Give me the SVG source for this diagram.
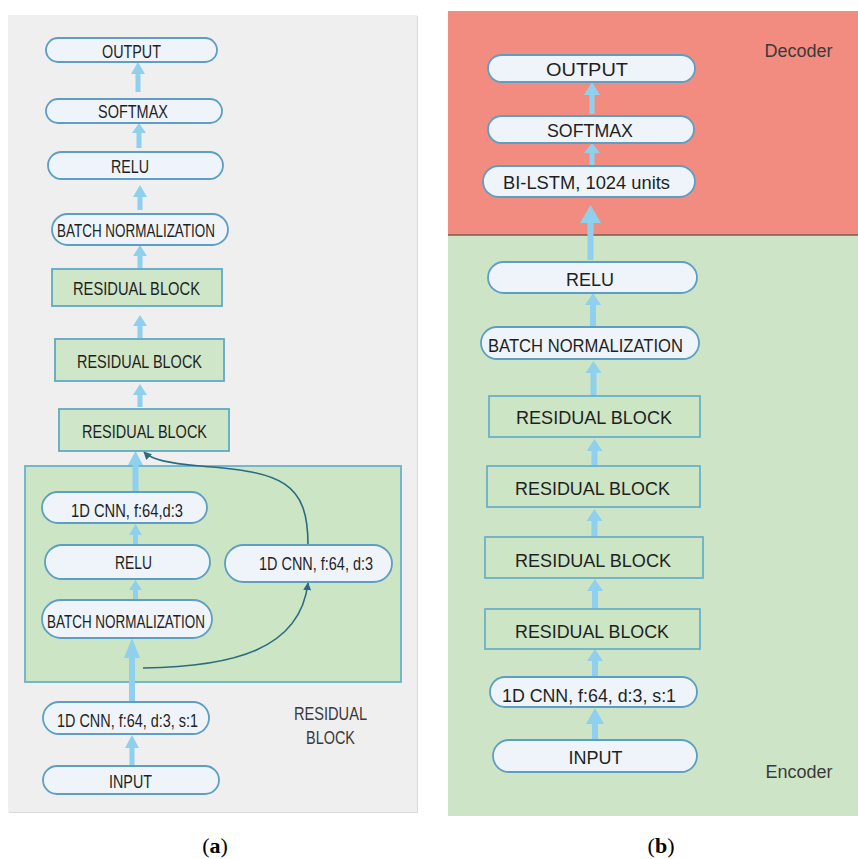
<svg xmlns="http://www.w3.org/2000/svg" width="858" height="859" viewBox="0 0 858 859">
  <style>
    .pill { fill: #eef4f9; stroke: #5d9ec4; stroke-width: 1.8; }
    .blk { fill: #cfe6c8; stroke: #5fa9c2; stroke-width: 1.8; }
    .blkb { fill: #cce5c5; stroke: #6ab1c8; stroke-width: 1.8; }
    .t { font-family: "Liberation Sans", Arial, sans-serif; font-size: 18px; fill: #1f1f1f; text-anchor: middle; }
    .ta { font-size: 19px; }
    .lab { font-family: "Liberation Sans", Arial, sans-serif; font-size: 18px; fill: #3a3a3a; text-anchor: middle; }
    .cap { font-family: "Liberation Serif", "Times New Roman", serif; font-size: 22px; fill: #000; text-anchor: middle; }
    .arr { fill: #8fd0ee; }
    .skip { fill: none; stroke: #2b6b7f; stroke-width: 1.6; marker-end: url(#tip); }
  </style>
  <defs>
    <marker id="tip" viewBox="0 0 10 10" refX="9" refY="5" markerWidth="8" markerHeight="8" markerUnits="userSpaceOnUse" orient="auto">
      <path d="M0 0 L10 5 L0 10 Z" fill="#2b6b7f"/>
    </marker>
  </defs>

  <rect width="858" height="859" fill="#ffffff"/>

  <!-- panel (a) backdrop -->
  <rect x="9" y="16" width="409" height="797" fill="#d9d9d9"/>
  <rect x="8" y="15" width="409" height="797" fill="#efefef"/>
  <!-- residual block container -->
  <g id="residual-container">
    <rect x="25" y="466" width="376" height="216" class="blkb"/>
    <text class="lab" x="330.5" y="720" textLength="73" lengthAdjust="spacingAndGlyphs">RESIDUAL</text>
    <text class="lab" x="330.5" y="744" textLength="49" lengthAdjust="spacingAndGlyphs">BLOCK</text>
  </g>

  <!-- panel (b) backdrop -->
  <rect x="448" y="11" width="410" height="224" fill="#f28c80"/>
  <rect x="448" y="235" width="410" height="581" fill="#cde5c6"/>
  <line x1="448" y1="235" x2="858" y2="235" stroke="#7a5a50" stroke-width="1.5"/>
  <text class="lab" x="798.5" y="57">Decoder</text>
  <text class="lab" x="799" y="778">Encoder</text>

  <!-- connectors -->
  <g id="connectors">
    <!-- panel (a) main flow -->
    <path class="arr" d="M135.5 92 V74 H131 L138 62 L145 74 H140.5 V92 Z"/>
    <path class="arr" d="M136.5 148 V133 H132 L139 123 L146 133 H141.5 V148 Z"/>
    <path class="arr" d="M137.5 210 V197 H133 L140 185 L147 197 H142.5 V210 Z"/>
    <path class="arr" d="M137.5 268 V256 H133 L140 245 L147 256 H142.5 V268 Z"/>
    <path class="arr" d="M137.5 338 V326 H133 L140 315 L147 326 H142.5 V338 Z"/>
    <path class="arr" d="M137.5 407 V395 H133 L140 384 L147 395 H142.5 V407 Z"/>
    <path class="arr" d="M132.5 492 V465 H128 L135.5 451 L143 465 H138.5 V492 Z"/>
    <path class="arr" d="M133 545 V535 H129 L135.5 524 L142 535 H138 V545 Z"/>
    <path class="arr" d="M133 600 V590 H129 L135.5 580 L142 590 H138 V600 Z"/>
    <path class="arr" d="M129 702 V658 H124 L132 638 L140 658 H135 V702 Z"/>
    <path class="arr" d="M129.5 766 V748 H125 L132 735 L139 748 H134.5 V766 Z"/>
    <!-- skip connection -->
    <path class="skip" d="M143 668 C 232 667, 300 650, 308 583"/>
    <path class="skip" d="M308 545 C 308 482, 282 472, 200 466 C 168 463, 152 460, 144 452"/>

    <!-- panel (b) flow -->
    <path class="arr" d="M589.5 114 V95 H584 L592 82 L600 95 H594.5 V114 Z"/>
    <path class="arr" d="M589.5 166 V153 H584 L592 143 L600 153 H594.5 V166 Z"/>
    <path class="arr" d="M587.5 260 V223 H580 L590.5 205 L601 223 H593.5 V260 Z"/>
    <path class="arr" d="M590 327 V305 H585 L593 293 L601 305 H596 V327 Z"/>
    <path class="arr" d="M590.5 396 V373 H585.5 L593.5 361 L601.5 373 H596.5 V396 Z"/>
    <path class="arr" d="M591.5 466 V451 H586.5 L594.5 439 L602.5 451 H597.5 V466 Z"/>
    <path class="arr" d="M591.5 537 V521 H586.5 L594.5 509 L602.5 521 H597.5 V537 Z"/>
    <path class="arr" d="M592 609 V591 H587 L595 579 L603 591 H598 V609 Z"/>
    <path class="arr" d="M592 677 V661 H587 L595 649 L603 661 H598 V677 Z"/>
    <path class="arr" d="M592 740 V724 H586 L595 708 L604 724 H598 V740 Z"/>
  </g>

  <!-- panel (a) nodes -->
  <g id="a-output"><rect class="pill" x="46" y="38" width="171" height="24" rx="12"/><text class="t ta" x="131.5" y="58" textLength="59" lengthAdjust="spacingAndGlyphs">OUTPUT</text></g>
  <g id="a-softmax"><rect class="pill" x="46" y="99" width="176" height="24" rx="12"/><text class="t ta" x="133" y="118" textLength="70" lengthAdjust="spacingAndGlyphs">SOFTMAX</text></g>
  <g id="a-relu"><rect class="pill" x="48" y="152" width="175" height="27" rx="13.5"/><text class="t ta" x="130" y="173" textLength="38" lengthAdjust="spacingAndGlyphs">RELU</text></g>
  <g id="a-batchnorm"><rect class="pill" x="52" y="214" width="176" height="31" rx="15.5"/><text class="t ta" x="136" y="237" textLength="158" lengthAdjust="spacingAndGlyphs">BATCH NORMALIZATION</text></g>
  <g id="a-res1"><rect class="blk" x="52" y="269" width="170" height="37"/><text class="t ta" x="136.5" y="295" textLength="127" lengthAdjust="spacingAndGlyphs">RESIDUAL BLOCK</text></g>
  <g id="a-res2"><rect class="blk" x="55" y="339" width="169" height="42"/><text class="t ta" x="139.5" y="368" textLength="125" lengthAdjust="spacingAndGlyphs">RESIDUAL BLOCK</text></g>
  <g id="a-res3"><rect class="blk" x="59" y="409" width="170" height="42"/><text class="t ta" x="144.5" y="438" textLength="125" lengthAdjust="spacingAndGlyphs">RESIDUAL BLOCK</text></g>
  <g id="a-cnn-top"><rect class="pill" x="42" y="492" width="165" height="31" rx="15.5"/><text class="t ta" x="127" y="517" textLength="112" lengthAdjust="spacingAndGlyphs">1D CNN, f:64,d:3</text></g>
  <g id="a-relu-inner"><rect class="pill" x="45" y="545" width="165" height="34" rx="17"/><text class="t ta" x="133.5" y="569" textLength="37" lengthAdjust="spacingAndGlyphs">RELU</text></g>
  <g id="a-cnn-skip"><rect class="pill" x="225" y="545" width="167" height="37" rx="18.5"/><text class="t ta" x="316" y="570" textLength="114" lengthAdjust="spacingAndGlyphs">1D CNN, f:64, d:3</text></g>
  <g id="a-batchnorm-inner"><rect class="pill" x="42" y="600" width="170" height="38" rx="19"/><text class="t ta" x="126" y="628" textLength="158" lengthAdjust="spacingAndGlyphs">BATCH NORMALIZATION</text></g>
  <g id="a-cnn-in"><rect class="pill" x="43" y="702" width="166" height="32" rx="16"/><text class="t ta" x="127.5" y="727" textLength="141" lengthAdjust="spacingAndGlyphs">1D CNN, f:64, d:3, s:1</text></g>
  <g id="a-input"><rect class="pill" x="43" y="766" width="176" height="28" rx="14"/><text class="t ta" x="130.5" y="788" textLength="43" lengthAdjust="spacingAndGlyphs">INPUT</text></g>

  <!-- panel (b) nodes -->
  <g id="b-output"><rect class="pill" x="488" y="55" width="207" height="27" rx="13.5"/><text class="t" x="587" y="76" textLength="82" lengthAdjust="spacingAndGlyphs">OUTPUT</text></g>
  <g id="b-softmax"><rect class="pill" x="488" y="116" width="206" height="27" rx="13.5"/><text class="t" x="590" y="137" textLength="86" lengthAdjust="spacingAndGlyphs">SOFTMAX</text></g>
  <g id="b-bilstm"><rect class="pill" x="483" y="166" width="212" height="31" rx="15.5"/><text class="t" x="586.5" y="189" textLength="167" lengthAdjust="spacingAndGlyphs">BI-LSTM, 1024 units</text></g>
  <g id="b-relu"><rect class="pill" x="488" y="262" width="209" height="31" rx="15.5"/><text class="t" x="590" y="286">RELU</text></g>
  <g id="b-batchnorm"><rect class="pill" x="481" y="327" width="218" height="32" rx="16"/><text class="t" x="585.5" y="352" textLength="195" lengthAdjust="spacingAndGlyphs">BATCH NORMALIZATION</text></g>
  <g id="b-res1"><rect class="blkb" x="489" y="396" width="211" height="41"/><text class="t" x="594" y="424" textLength="156" lengthAdjust="spacingAndGlyphs">RESIDUAL BLOCK</text></g>
  <g id="b-res2"><rect class="blkb" x="487" y="466" width="213" height="41"/><text class="t" x="592.5" y="495" textLength="155" lengthAdjust="spacingAndGlyphs">RESIDUAL BLOCK</text></g>
  <g id="b-res3"><rect class="blkb" x="485" y="537" width="218" height="41"/><text class="t" x="593" y="567" textLength="156" lengthAdjust="spacingAndGlyphs">RESIDUAL BLOCK</text></g>
  <g id="b-res4"><rect class="blkb" x="485" y="609" width="215" height="40"/><text class="t" x="592" y="638" textLength="154" lengthAdjust="spacingAndGlyphs">RESIDUAL BLOCK</text></g>
  <g id="b-cnn-in"><rect class="pill" x="490" y="677" width="207" height="30" rx="15"/><text class="t" x="589" y="702" textLength="174" lengthAdjust="spacingAndGlyphs">1D CNN, f:64, d:3, s:1</text></g>
  <g id="b-input"><rect class="pill" x="493" y="740" width="204" height="32" rx="16"/><text class="t" x="595.5" y="764">INPUT</text></g>

  <!-- captions -->
  <text class="cap" x="215" y="853">(<tspan font-weight="bold">a</tspan>)</text>
  <text class="cap" x="661" y="853">(<tspan font-weight="bold">b</tspan>)</text>
</svg>
